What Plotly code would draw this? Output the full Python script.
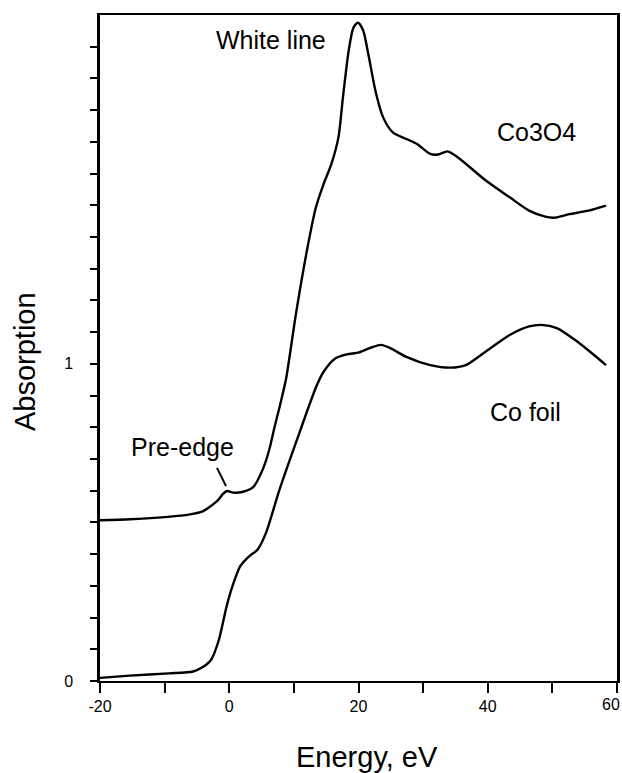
import plotly.graph_objects as go

# Co3O4 spectrum (upper curve)
co3o4_energy = [-20, -15.4, -10.5, -6.5, -4.1, -1.9, -1.0, -0.35, 0.6, 2.0, 3.7, 5.2, 6.2, 7.0,
                7.8, 8.8, 10.3, 12.1, 13.4, 14.6, 15.8, 16.9, 17.6, 18.5, 19.2, 19.9, 20.7,
                21.6, 22.6, 23.8, 25.3, 27.4, 29.0, 31.1, 32.3, 33.8, 35.4, 39.7, 43.4, 46.4,
                48.9, 50.4, 52.6, 55.6, 58.3]
co3o4_abs = [0.507, 0.510, 0.516, 0.524, 0.535, 0.567, 0.589, 0.599, 0.594, 0.596, 0.611, 0.668,
             0.730, 0.800, 0.865, 0.954, 1.155, 1.366, 1.493, 1.567, 1.630, 1.715, 1.842, 1.99,
             2.059, 2.076, 2.053, 1.968, 1.863, 1.778, 1.730, 1.709, 1.694, 1.662, 1.660, 1.670,
             1.651, 1.578, 1.525, 1.483, 1.464, 1.461, 1.472, 1.483, 1.499]

# Co foil spectrum (lower curve)
cofoil_energy = [-20, -15.4, -9.3, -5.6, -4.1, -2.8, -1.6, -0.4, 0.5, 1.7, 2.9, 4.4, 5.7, 7.8,
                 10.9, 13.5, 14.6, 16.4, 18.2, 20.1, 21.9, 23.5, 25.0, 27.4, 31.1, 34.2, 36.6,
                 39.7, 43.4, 46.4, 48.3, 50.7, 53.8, 58.3]
cofoil_abs = [0.010, 0.017, 0.024, 0.030, 0.044, 0.067, 0.130, 0.236, 0.299, 0.362, 0.390, 0.415,
              0.468, 0.605, 0.785, 0.93, 0.975, 1.017, 1.030, 1.036, 1.051, 1.060, 1.049, 1.022,
              0.996, 0.988, 0.996, 1.039, 1.091, 1.118, 1.123, 1.113, 1.071, 0.996]

# ticks: every 10 eV on x (labels every 20), every 0.1 on y (labels at 0 and 1)
x_tick_vals = [-20, -10, 0, 10, 20, 30, 40, 50, 60]
x_tick_text = ["-20", "", "0", "", "20", "", "40", "", "60"]
y_tick_vals = [i / 10 for i in range(21)]
y_tick_text = ["0"] + [""] * 9 + ["1"] + [""] * 10

FONT = "Liberation Sans, Arial, Helvetica, sans-serif"

fig = go.Figure()
for xs, ys in ((co3o4_energy, co3o4_abs), (cofoil_energy, cofoil_abs)):
    fig.add_trace(go.Scatter(x=xs, y=ys, mode="lines",
                             line=dict(color="black", width=2.4, shape="spline", smoothing=0.7),
                             showlegend=False, hoverinfo="skip"))

annos = [
    dict(x=6.46, y=2.022, text="White line"),
    dict(x=47.5, y=1.731, text="Co3O4"),
    dict(x=45.8, y=0.849, text="Co foil"),
    dict(x=-7.23, y=0.738, text="Pre-edge"),
]
for a in annos:
    fig.add_annotation(x=a["x"], y=a["y"], text=a["text"], showarrow=False,
                       xref="x", yref="y", font=dict(family=FONT, size=25, color="black"))

# the last x tick label sits at the page edge: draw it right-aligned so it stays visible
last_x_label = x_tick_text[-1]
shown_x_text = x_tick_text[:-1] + [""]
fig.add_annotation(x=x_tick_vals[-1], y=0, xref="x", yref="paper", text=last_x_label,
                   showarrow=False, xanchor="right", yanchor="top", xshift=5, yshift=-13,
                   font=dict(family=FONT, size=16, color="black"))

# axis titles
fig.add_annotation(x=0.516, y=-0.114, xref="paper", yref="paper", text="Energy, eV",
                   showarrow=False, xanchor="center", yanchor="middle",
                   font=dict(family=FONT, size=29, color="black"))
fig.add_annotation(x=-0.145, y=0.479, xref="paper", yref="paper", text="Absorption",
                   showarrow=False, xanchor="center", yanchor="middle", textangle=-90,
                   font=dict(family=FONT, size=29, color="black"))

fig.add_shape(type="line", x0=-1.9, y0=0.672, x1=-0.5, y1=0.615,
              xref="x", yref="y", line=dict(color="black", width=2))

fig.update_layout(
    width=622, height=773,
    margin=dict(l=100, r=5, t=15, b=92, autoexpand=False),
    paper_bgcolor="white", plot_bgcolor="white",
    font=dict(family=FONT, color="black"),
    xaxis=dict(range=[-20, 60], tickmode="array", tickvals=x_tick_vals, ticktext=shown_x_text,
               ticks="outside", ticklen=10, tickwidth=2, tickcolor="black",
               showline=True, linecolor="black", linewidth=2, mirror=True,
               showgrid=False, zeroline=False, ticklabeloverflow="allow", automargin=False,
               tickfont=dict(family=FONT, size=16, color="black")),
    yaxis=dict(range=[0, 2.1], tickmode="array", tickvals=y_tick_vals, ticktext=y_tick_text,
               ticks="outside", ticklen=7, tickwidth=2, tickcolor="black",
               showline=True, linecolor="black", linewidth=2.5, mirror=True,
               showgrid=False, zeroline=False, ticklabelstandoff=14, automargin=False,
               tickfont=dict(family=FONT, size=16, color="black")),
)

fig.write_html("out.html")
